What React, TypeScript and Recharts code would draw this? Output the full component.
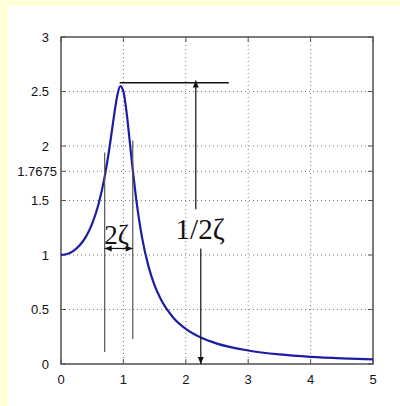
import {
  LineChart,
  Line,
  XAxis,
  YAxis,
  CartesianGrid,
  ReferenceLine,
  ReferenceArea,
  ReferenceDot,
} from "recharts";

// frequency ratio r = w / wn
const freqRatio = [
  0, 0.1, 0.2, 0.3, 0.4, 0.5, 0.6, 0.7, 0.75, 0.8, 0.85, 0.9, 0.95, 1.0, 1.05,
  1.1, 1.15, 1.2, 1.3, 1.4, 1.5, 1.6, 1.8, 2.0, 2.25, 2.5, 3.0, 3.5, 4.0, 4.5,
  5.0,
];
// amplitude ratio |H|
const amplitude = [
  1.0, 1.009, 1.038, 1.089, 1.169, 1.288, 1.463, 1.719, 1.885, 2.076, 2.279,
  2.457, 2.549, 2.5, 2.313, 2.051, 1.78, 1.536, 1.157, 0.9, 0.721, 0.593,
  0.425, 0.322, 0.24, 0.187, 0.124, 0.088, 0.066, 0.052, 0.042,
];

const xTicks = [0, 1, 2, 3, 4, 5];
const yTicks = [0, 0.5, 1, 1.5, 1.7675, 2, 2.5, 3];

// annotation geometry (in data units)
const peakLevel = 2.58;
const peakLine = [
  { x: 0.94, y: peakLevel },
  { x: 2.69, y: peakLevel },
];
const halfPowerLeft = [
  { x: 0.7, y: 0.11 },
  { x: 0.7, y: 1.94 },
];
const halfPowerRight = [
  { x: 1.15, y: 0.23 },
  { x: 1.15, y: 2.05 },
];
const bandwidthArrow = [
  { x: 0.7, y: 1.06 },
  { x: 1.15, y: 1.06 },
];
const upArrow = [
  { x: 2.16, y: 1.42 },
  { x: 2.16, y: 2.6 },
];
const downArrow = [
  { x: 2.24, y: 1.06 },
  { x: 2.24, y: 0 },
];

const data = freqRatio.map((r, i) => ({ r, h: amplitude[i] }));

const FONT = "'Liberation Sans', Arial, sans-serif";
const SERIF = "'Liberation Serif', 'Times New Roman', serif";

function arrowShape(heads: "start" | "end" | "both") {
  return (p: any) => {
    const { x1, y1, x2, y2 } = p;
    const head = (tx: number, ty: number, fx: number, fy: number) => {
      const dx = tx - fx;
      const dy = ty - fy;
      const len = Math.hypot(dx, dy) || 1;
      const ux = dx / len;
      const uy = dy / len;
      const bx = tx - ux * 7;
      const by = ty - uy * 7;
      return (
        <polygon
          points={`${tx},${ty} ${bx - uy * 3},${by + ux * 3} ${bx + uy * 3},${by - ux * 3}`}
          fill="#111"
        />
      );
    };
    return (
      <g>
        <line x1={x1} y1={y1} x2={x2} y2={y2} stroke={p.stroke} strokeWidth={p.strokeWidth} />
        {(heads === "end" || heads === "both") && head(x2, y2, x1, y1)}
        {(heads === "start" || heads === "both") && head(x1, y1, x2, y2)}
      </g>
    );
  };
}

// short inward tick marks at both ends of a full-height / full-width line
const innerTicks = (p: any) => {
  const { x1, y1, x2, y2 } = p;
  const len = 5;
  const vertical = Math.abs(x1 - x2) < 0.5;
  return vertical ? (
    <g stroke="#555" strokeWidth={1}>
      <line x1={x1} y1={Math.min(y1, y2)} x2={x1} y2={Math.min(y1, y2) + len} />
      <line x1={x1} y1={Math.max(y1, y2)} x2={x1} y2={Math.max(y1, y2) - len} />
    </g>
  ) : (
    <g stroke="#555" strokeWidth={1}>
      <line x1={Math.min(x1, x2)} y1={y1} x2={Math.min(x1, x2) + len} y2={y1} />
      <line x1={Math.max(x1, x2)} y1={y1} x2={Math.max(x1, x2) - len} y2={y1} />
    </g>
  );
};

const renderYTick = (props: any) => {
  const { x, y, payload } = props;
  const shift = payload.value === 1.7675 ? 8 : 0;
  return (
    <text
      x={x + shift}
      y={y}
      dy="0.355em"
      textAnchor="end"
      fontFamily={FONT}
      fontSize={13}
      fill="#111"
    >
      {payload.value}
    </text>
  );
};

const textShape = (label: string, size: number) => (p: any) => (
  <text
    x={p.cx}
    y={p.cy}
    dy="0.35em"
    textAnchor="middle"
    fontFamily={SERIF}
    fontSize={size}
    fill="#111"
  >
    {label}
  </text>
);

export default function App() {
  return (
    <div
      style={{
        position: "absolute",
        left: 0,
        top: 0,
        width: 400,
        height: 406,
        background: "#FFFFD8",
      }}
    >
      <div
        style={{
          position: "absolute",
          left: 8,
          top: 6,
          right: 0,
          bottom: 0,
          background: "#ffffff",
        }}
      />
      <div style={{ position: "absolute", left: 0, top: 0 }}>
        <LineChart
          width={400}
          height={406}
          data={data}
          margin={{ top: 37, right: 27, bottom: 0, left: 0 }}
        >
          <CartesianGrid stroke="#7a7a7a" strokeDasharray="1 3" />
          <XAxis
            dataKey="r"
            type="number"
            domain={[0, 5]}
            ticks={xTicks}
            height={42}
            axisLine={false}
            tickLine={false}
            tickSize={6}
            tickMargin={5}
            tick={{ fontFamily: FONT, fontSize: 13, fill: "#111" }}
          />
          <YAxis
            type="number"
            domain={[0, 3]}
            ticks={yTicks}
            width={61}
            axisLine={false}
            tickLine={false}
            tickSize={6}
            tickMargin={6}
            tick={renderYTick}
          />
          {xTicks.map((t) => (
            <ReferenceLine key={`xt-${t}`} x={t} shape={innerTicks} />
          ))}
          {yTicks.map((t) => (
            <ReferenceLine key={`yt-${t}`} y={t} shape={innerTicks} />
          ))}
          <ReferenceArea
            x1={0}
            x2={5}
            y1={0}
            y2={3}
            fill="none"
            stroke="#555"
            strokeWidth={1.5}
          />
          <Line
            type="monotone"
            dataKey="h"
            stroke="#1c1ca4"
            strokeWidth={2.2}
            dot={false}
            isAnimationActive={false}
          />
          <ReferenceLine segment={peakLine} stroke="#111" strokeWidth={1.5} />
          <ReferenceLine segment={halfPowerLeft} stroke="#555" strokeWidth={1.2} />
          <ReferenceLine segment={halfPowerRight} stroke="#555" strokeWidth={1.2} />
          <ReferenceLine
            segment={bandwidthArrow}
            stroke="#111"
            strokeWidth={1.2}
            shape={arrowShape("both")}
          />
          <ReferenceLine
            segment={upArrow}
            stroke="#111"
            strokeWidth={1.2}
            shape={arrowShape("end")}
          />
          <ReferenceLine
            segment={downArrow}
            stroke="#111"
            strokeWidth={1.2}
            shape={arrowShape("end")}
          />
          <ReferenceDot x={0.89} y={1.19} r={0} shape={textShape("2ζ", 27)} />
          <ReferenceDot x={2.23} y={1.24} r={0} shape={textShape("1/2ζ", 29)} />
        </LineChart>
      </div>
    </div>
  );
}
